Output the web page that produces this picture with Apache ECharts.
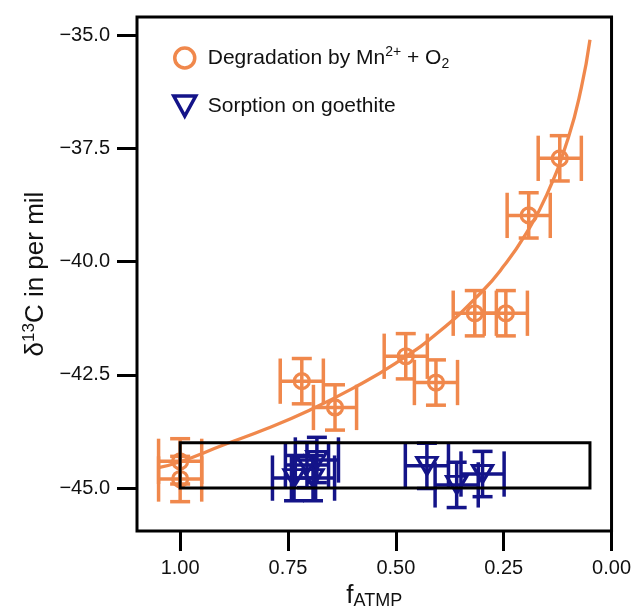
<!DOCTYPE html>
<html><head><meta charset="utf-8">
<script src="https://cdn.jsdelivr.net/npm/echarts@6/dist/echarts.min.js"></script>
<style>html,body{margin:0;padding:0;background:#fff}#c{width:634px;height:615px}</style>
</head><body><div id="c"></div>
<script>
// Degradation by Mn2+ + O2
const degF = [1.00, 1.00, 0.718, 0.641, 0.477, 0.407, 0.317, 0.245, 0.192, 0.120];
const degD = [-44.41, -44.80, -42.64, -43.22, -42.09, -42.67, -41.14, -41.14, -38.98, -37.72];
const degXErr = [0.05, 0.05, 0.05, 0.05, 0.05, 0.05, 0.05, 0.05, 0.05, 0.05];
const degYErr = [0.5, 0.5, 0.5, 0.5, 0.5, 0.5, 0.5, 0.5, 0.5, 0.5];
// Sorption on goethite
const sorF = [0.736, 0.706, 0.692, 0.683, 0.428, 0.359, 0.299];
const sorD = [-44.78, -44.49, -44.78, -44.38, -44.51, -44.93, -44.69];
const sorXErr = [0.05, 0.05, 0.05, 0.05, 0.05, 0.05, 0.05];
const sorYErr = [0.5, 0.5, 0.5, 0.5, 0.5, 0.5, 0.5];
// fitted curve
const curveF = [1.05, 1.00, 0.90, 0.80, 0.70, 0.60, 0.50, 0.40, 0.30, 0.25, 0.20, 0.15, 0.10, 0.07, 0.05];
const curveD = [-44.55, -44.42, -44.05, -43.69, -43.28, -42.80, -42.24, -41.55, -40.66, -40.10, -39.41, -38.52, -37.26, -36.16, -35.10];
// black box
const boxF = [1.00, 0.05];
const boxD = [-44.0, -45.0];
// ticks
const xTicks = [0, 0.25, 0.5, 0.75, 1.0];
const yTicks = [-45, -42.5, -40, -37.5, -35];
const xRange = [0, 1.1];
const yRange = [-45.95, -34.6];

const ORANGE = '#F0884C';
const BLUE = '#141489';
const FONT = 'Liberation Sans, Arial, sans-serif';

function errRender(color) {
  return function (params, api) {
    const x = api.value(0), y = api.value(1), ex = api.value(2), ey = api.value(3);
    const c = api.coord([x, y]);
    const a = api.coord([x + ex, y]), b = api.coord([x - ex, y]);
    const t = api.coord([x, y + ey]), u = api.coord([x, y - ey]);
    const capH = Math.abs(u[1] - t[1]) / 2;
    const capW = 10;
    const st = { stroke: color, lineWidth: 3.5, fill: null };
    return { type: 'group', children: [
      { type: 'line', shape: { x1: a[0], y1: c[1], x2: b[0], y2: c[1] }, style: st },
      { type: 'line', shape: { x1: a[0], y1: c[1] - capH, x2: a[0], y2: c[1] + capH }, style: st },
      { type: 'line', shape: { x1: b[0], y1: c[1] - capH, x2: b[0], y2: c[1] + capH }, style: st },
      { type: 'line', shape: { x1: c[0], y1: t[1], x2: c[0], y2: u[1] }, style: st },
      { type: 'line', shape: { x1: c[0] - capW, y1: t[1], x2: c[0] + capW, y2: t[1] }, style: st },
      { type: 'line', shape: { x1: c[0] - capW, y1: u[1], x2: c[0] + capW, y2: u[1] }, style: st }
    ]};
  };
}

const fmt = v => (v < 0 ? '\u2212' : '') + Math.abs(v).toFixed(1);
const fmtX = v => v.toFixed(2);

const chart = echarts.init(document.getElementById('c'), null, { renderer: 'canvas' });
chart.setOption({
  animation: false,
  backgroundColor: '#fff',
  textStyle: { fontFamily: FONT },
  grid: { left: 137, right: 22, top: 17, bottom: 83, show: true, borderColor: '#000', borderWidth: 3, backgroundColor: 'transparent' },
  xAxis: {
    type: 'value', min: xRange[0], max: xRange[1], inverse: true,
    axisLine: { show: false, onZero: false },
    splitLine: { show: false },
    axisTick: { show: true, length: 20, lineStyle: { width: 3, color: '#000' }, customValues: xTicks },
    axisLabel: { customValues: xTicks, formatter: fmtX, fontSize: 20, color: '#111', margin: 27, fontFamily: FONT },
    name: '{f|f}{s|ATMP}', nameLocation: 'middle', nameGap: 50,
    nameTextStyle: { color: '#111', fontFamily: FONT, rich: {
      f: { fontSize: 26, fontFamily: FONT, color: '#111', lineHeight: 28 },
      s: { fontSize: 18, fontFamily: FONT, color: '#111', lineHeight: 8, verticalAlign: 'bottom' }
    } }
  },
  yAxis: {
    type: 'value', min: yRange[0], max: yRange[1],
    axisLine: { show: false, onZero: false },
    splitLine: { show: false },
    axisTick: { show: true, length: 20, lineStyle: { width: 3, color: '#000' }, customValues: yTicks },
    axisLabel: { customValues: yTicks, formatter: fmt, fontSize: 20, color: '#111', margin: 27, fontFamily: FONT },
    name: '{d|\u03b4}{p|13}{d|C in per mil}', nameLocation: 'middle', nameGap: 84,
    nameTextStyle: { color: '#111', fontFamily: FONT, rich: {
      d: { fontSize: 26, fontFamily: FONT, color: '#111', lineHeight: 30 },
      p: { fontSize: 17, fontFamily: FONT, color: '#111', lineHeight: 8, verticalAlign: 'top' }
    } }
  },
  legend: {
    orient: 'vertical', left: 167, top: 40, itemWidth: 36, itemHeight: 20, itemGap: 22,
    selectedMode: false,
    textStyle: { fontSize: 21, color: '#111', fontFamily: FONT, lineHeight: 26, rich: {
      t: { fontSize: 21, fontFamily: FONT, color: '#111', lineHeight: 26 },
      sp: { fontSize: 14, fontFamily: FONT, color: '#111', lineHeight: 8, verticalAlign: 'top' },
      sb: { fontSize: 14, fontFamily: FONT, color: '#111', lineHeight: 6, verticalAlign: 'bottom' }
    } },
    formatter: function (name) {
      if (name === 'deg') return '{t|Degradation by Mn}{sp|2+}{t| + O}{sb|2}';
      return '{t|Sorption on goethite}';
    },
    data: [
      { name: 'deg', icon: 'circle', itemStyle: { color: 'rgba(0,0,0,0)', borderColor: ORANGE, borderWidth: 3.5 } },
      { name: 'sor', icon: 'path://M0,0 L22,0 L11,20 Z', itemStyle: { color: 'rgba(0,0,0,0)', borderColor: BLUE, borderWidth: 3.5 } }
    ]
  },
  series: [
    { name: 'curve', type: 'line', data: curveF.map((f, i) => [f, curveD[i]]), smooth: true, showSymbol: false,
      lineStyle: { color: ORANGE, width: 3.3 }, z: 2, clip: false },
    { name: 'degErr', type: 'custom', renderItem: errRender(ORANGE), z: 3,
      data: degF.map((f, i) => [f, degD[i], degXErr[i], degYErr[i]]), encode: { x: 0, y: 1 } },
    { name: 'deg', type: 'scatter', data: degF.map((f, i) => [f, degD[i]]), symbol: 'circle', symbolSize: 15, z: 4,
      itemStyle: { color: 'rgba(0,0,0,0)', borderColor: ORANGE, borderWidth: 3.2, opacity: 1 } },
    { name: 'sorErr', type: 'custom', renderItem: errRender(BLUE), z: 5,
      data: sorF.map((f, i) => [f, sorD[i], sorXErr[i], sorYErr[i]]), encode: { x: 0, y: 1 } },
    { name: 'sor', type: 'scatter', data: sorF.map((f, i) => [f, sorD[i]]), symbol: 'triangle', symbolRotate: 180, symbolSize: [20, 17], z: 6,
      itemStyle: { color: 'rgba(0,0,0,0)', borderColor: BLUE, borderWidth: 3.2, opacity: 1 } },
    { name: 'box', type: 'custom', z: 10,
      renderItem: function (params, api) {
        const p1 = api.coord([api.value(0), api.value(1)]);
        const p2 = api.coord([api.value(2), api.value(3)]);
        return { type: 'rect', shape: { x: Math.min(p1[0], p2[0]), y: Math.min(p1[1], p2[1]), width: Math.abs(p2[0] - p1[0]), height: Math.abs(p2[1] - p1[1]) },
          style: { stroke: '#000', lineWidth: 3, fill: null } };
      },
      data: [[boxF[0], boxD[0], boxF[1], boxD[1]]], encode: { x: [0, 2], y: [1, 3] } }
  ]
});
</script></body></html>
